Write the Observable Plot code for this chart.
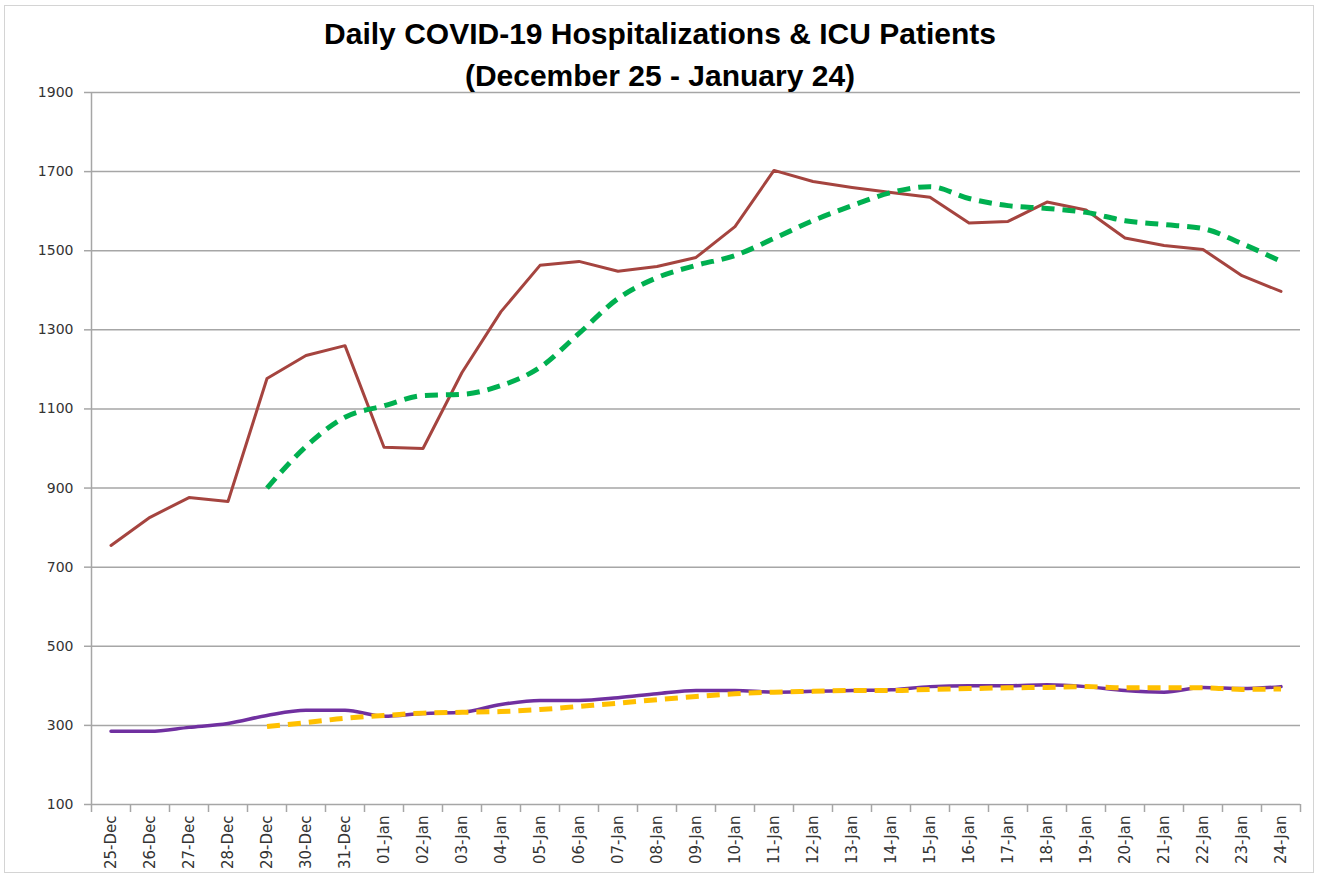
<!DOCTYPE html>
<html>
<head>
<meta charset="utf-8">
<script src="https://cdn.jsdelivr.net/npm/d3@7"></script>
<script src="https://cdn.jsdelivr.net/npm/@observablehq/plot@0.6"></script>
<style>
  html, body { margin: 0; padding: 0; background: #fff; }
  #wrap { position: relative; width: 1320px; height: 879px; overflow: hidden; background: #fff; }
  #border { position: absolute; left: 4px; top: 5px; width: 1308px; height: 866px; border: 1.5px solid #d4d4d4; }
  #title { position: absolute; left: 0; top: 13px; width: 1320px; text-align: center;
           font-family: "Liberation Sans", Arial, sans-serif; font-weight: bold; font-size: 30px;
           line-height: 42px; color: #000; }
  #chart { position: absolute; left: 0; top: 78px; }
</style>
</head>
<body>
<div id="wrap">
  <div id="border"></div>
  <div id="chart"></div>
  <div id="title">Daily COVID-19 Hospitalizations &amp; ICU Patients<br>(December 25 - January 24)</div>
</div>
<script>
const dates = ["25-Dec","26-Dec","27-Dec","28-Dec","29-Dec","30-Dec","31-Dec",
  "01-Jan","02-Jan","03-Jan","04-Jan","05-Jan","06-Jan","07-Jan","08-Jan","09-Jan","10-Jan",
  "11-Jan","12-Jan","13-Jan","14-Jan","15-Jan","16-Jan","17-Jan","18-Jan","19-Jan","20-Jan",
  "21-Jan","22-Jan","23-Jan","24-Jan"];
const hospitalizations = [755, 826, 876, 866, 1177, 1235, 1260, 1003, 1000, 1192, 1346, 1463, 1473, 1448, 1460, 1483, 1561,
  1703, 1675, 1660, 1647, 1635, 1570, 1574, 1623, 1603, 1532, 1513, 1503, 1437, 1397];
const hospAvg = [null, null, null, null, 900, 1005, 1079, 1108, 1134, 1137, 1159, 1205, 1291, 1379, 1432, 1463, 1488,
  1531, 1576, 1614, 1647, 1662, 1632, 1614, 1607, 1597, 1576, 1566, 1556, 1518, 1473];
const icu = [285, 285, 295, 305, 325, 338, 338, 323, 330, 333, 353, 363, 363, 370, 380, 388, 388,
  384, 386, 388, 390, 398, 400, 400, 403, 398, 388, 384, 396, 393, 398];
const icuAvg = [null, null, null, null, 297, 307, 318, 325, 331, 333, 335, 340, 348, 356, 365, 373, 380,
  384, 386, 388, 388, 391, 393, 395, 396, 398, 395, 395, 395, 391, 392];
const yTicks = [100, 300, 500, 700, 900, 1100, 1300, 1500, 1700, 1900];

const rows = dates.map((d, i) => ({date: d, hosp: hospitalizations[i], hospAvg: hospAvg[i], icu: icu[i], icuAvg: icuAvg[i]}));

const W = 1320, H = 801, mL = 91, mR = 20, mT = 14, mB = 75;
const step = (W - mL - mR) / dates.length;
const gridColor = "#a6a6a6";

const chart = Plot.plot({
  width: W, height: H,
  marginLeft: mL, marginRight: mR, marginTop: mT, marginBottom: mB,
  style: {fontFamily: "'DejaVu Sans', Verdana, sans-serif", background: "transparent", color: "#333"},
  x: {type: "point", domain: dates, padding: 0.5, round: false, label: null},
  y: {domain: [100, 1900], label: null},
  marks: [
    Plot.gridY(yTicks, {stroke: gridColor, strokeOpacity: 1, strokeWidth: 1.5}),
    Plot.ruleX([dates[0]], {dx: -step / 2, stroke: gridColor, strokeWidth: 1.5}),
    Plot.ruleX(dates, {x: d => d, y1: 100, y2: 100, dx: -step / 2, insetBottom: -8, stroke: gridColor, strokeWidth: 1.5}),
    Plot.ruleX([dates[dates.length - 1]], {x: d => d, y1: 100, y2: 100, dx: step / 2, insetBottom: -8, stroke: gridColor, strokeWidth: 1.5}),
    Plot.axisY({ticks: yTicks, tickSize: 7, tickPadding: 11, fontSize: 14, stroke: gridColor, strokeWidth: 1.5, tickFormat: d => String(d), label: null}),
    Plot.axisX({tickSize: 0, tickPadding: 11, tickRotate: -90, fontSize: 15, label: null}),
    Plot.line(rows, {x: "date", y: "hosp", stroke: "#a5443f", strokeWidth: 3}),
    Plot.line(rows, {x: "date", y: "icu", stroke: "#7030a0", strokeWidth: 3.5, curve: "monotone-x"}),
    Plot.line(rows, {x: "date", y: "hospAvg", stroke: "#00b050", strokeWidth: 5, strokeDasharray: "13,8", strokeLinecap: "butt", curve: "monotone-x"}),
    Plot.line(rows, {x: "date", y: "icuAvg", stroke: "#ffc000", strokeWidth: 5, strokeDasharray: "13,8", strokeLinecap: "butt", curve: "monotone-x"})
  ]
});
document.getElementById("chart").appendChild(chart);
</script>
</body>
</html>
